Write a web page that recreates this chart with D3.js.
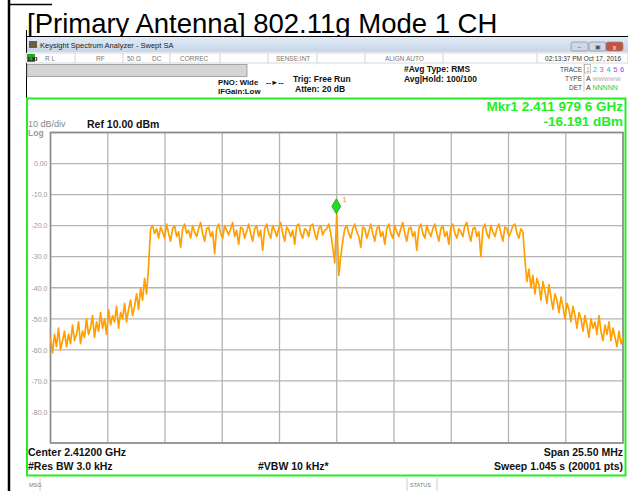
<!DOCTYPE html>
<html lang="en">
<head>
<meta charset="UTF-8"/>
<title>802.11g Mode 1 CH</title>
<script src="https://d3js.org/d3.v7.min.js"></script>
<style>
  body { margin: 0; background: #fff; }
  svg { display: block; font-family: "Liberation Sans", Arial, sans-serif; }
</style>
</head>
<body>
<script>
var w = 628;
var h = 491;

// sweep settings (MHz)
var centerMHz = 2412.0;
var spanMHz = 25.5;

// reference level / scale
var refLevel = 10;
var dbPerDiv = 10;
var yTickValues = [0, -10, -20, -30, -40, -50, -60, -70, -80];

// marker
var markerMHz = 2411.9796;
var markerDbm = -16.191;

// trace (dBm), evenly spaced across the span
var traceLeft = [
  -56, -61, -55, -59, -53, -60, -57, -54, -59, -55,
  -58, -52, -57, -55, -51, -58, -54, -56, -50, -55,
  -53, -49, -56, -51, -54, -48, -53, -50, -55, -47,
  -52, -49, -51, -46, -53, -48, -50, -45, -51, -47,
  -44, -49, -46, -42, -47, -40, -44, -37, -42, -33
];
var traceTop = [
  -21, -20, -22.5, -21, -24, -20.5, -22, -24, -19.5, -22.5,
  -25, -21, -20, -23.5, -22, -27, -21, -19.5, -22.5, -21.5,
  -24, -20, -22, -23.5, -21, -19, -22.5, -25, -21, -20.5,
  -23.5, -22, -29, -21, -19.5, -22.5, -24, -20, -21.5, -23,
  -21, -19, -23.5, -21.5, -26, -20.5, -21, -24, -22, -19.5,
  -22.5, -25, -21, -20, -23.5, -21.5, -28, -21, -19.5, -22.5,
  -24, -20, -21.5, -23.5, -21, -19, -22.5, -25, -20.5, -21.5,
  -23.5, -21.5, -26, -20, -19.5, -22.5, -24, -21, -21.5, -23.5,
  -20, -19.5, -22.5, -24.5, -21, -20, -23, -21.5, -21, -19.5,
  -22.5, -27, -32, -16.2, -36, -30, -25, -21, -20, -22.5,
  -24, -21, -19.5, -22, -23.5, -27, -20.5, -21, -24, -22,
  -19.5, -22.5, -25, -21, -20, -23.5, -22, -26, -21, -19.5,
  -22.5, -24, -20, -22, -23.5, -21, -19, -22.5, -25, -21,
  -20.5, -23.5, -22, -28, -21, -19.5, -22.5, -24, -20, -22,
  -23.5, -21, -19.5, -22.5, -25, -21, -20, -23.5, -22, -26,
  -20.5, -19.5, -22.5, -24, -21, -22, -23.5, -20, -19, -22.5,
  -25, -21, -20.5, -23.5, -22, -30, -21, -19.5, -22.5, -24,
  -20, -22, -23.5, -21, -19.5, -22.5, -25, -20.5, -21, -23.5,
  -22, -20, -19.5, -22.5, -24, -21, -22
];
var traceRight = [
  -31, -38, -34, -40, -36, -42, -37, -39, -44, -38,
  -41, -45, -39, -43, -47, -42, -44, -48, -43, -46,
  -50, -45, -47, -51, -46, -49, -53, -48, -50, -54,
  -49, -52, -56, -50, -53, -51, -55, -49, -54, -57,
  -52, -55, -51, -57, -53, -56, -59, -54, -58, -56
];
var traceDbm = traceLeft.concat(traceTop, traceRight);

var traceColors = ["#f0a000", "#00c0e8", "#e040e0", "#20b880", "#c040e0", "#8050ff"];

var svg = d3.select("body").append("svg")
  .attr("width", w)
  .attr("height", h);

// page frame + title
svg.append("line").attr("x1", 9).attr("y1", 0).attr("x2", 9).attr("y2", h)
  .attr("stroke", "#000").attr("stroke-width", 2.5);
svg.append("line").attr("x1", 8).attr("y1", 4.5).attr("x2", 52).attr("y2", 4.5)
  .attr("stroke", "#000").attr("stroke-width", 1.5);
svg.append("text")
  .attr("x", 27).attr("y", 33)
  .attr("font-size", 27.5)
  .attr("fill", "#000")
  .text("[Primary Antenna] 802.11g Mode 1 CH");

// window title bar
var grad = svg.append("defs").append("linearGradient")
  .attr("id", "tb").attr("x1", 0).attr("y1", 0).attr("x2", 0).attr("y2", 1);
grad.append("stop").attr("offset", 0).attr("stop-color", "#e4edf7");
grad.append("stop").attr("offset", 1).attr("stop-color", "#c6d5e8");

svg.append("rect").attr("x", 26).attr("y", 36).attr("width", 602).attr("height", 16)
  .attr("fill", "url(#tb)");
svg.append("line").attr("x1", 26).attr("y1", 36.5).attr("x2", 628).attr("y2", 36.5)
  .attr("stroke", "#000").attr("stroke-width", 1);
svg.append("line").attr("x1", 26.5).attr("y1", 30).attr("x2", 26.5).attr("y2", 98)
  .attr("stroke", "#000").attr("stroke-width", 1);
svg.append("rect").attr("x", 29).attr("y", 41).attr("width", 8).attr("height", 7)
  .attr("fill", "#6b6040");
svg.append("text").attr("x", 40).attr("y", 47.5).attr("font-size", 7.5)
  .attr("fill", "#222").text("Keysight Spectrum Analyzer - Swept SA");

var btns = [
  {x: 571, c: "#cfd9e6"},
  {x: 589, c: "#cfd9e6"},
  {x: 606, c: "#c8523c"}
];
svg.selectAll("rect.btn").data(btns).enter().append("rect")
  .attr("class", "btn")
  .attr("x", function(d) { return d.x; }).attr("y", 42)
  .attr("width", 17).attr("height", 9).attr("rx", 2)
  .attr("fill", function(d) { return d.c; })
  .attr("stroke", "#7f8ea3").attr("stroke-width", 0.7);
svg.append("text").attr("x", 579.5).attr("y", 49).attr("font-size", 6).attr("text-anchor", "middle").attr("fill", "#445").text("\u2013");
svg.append("text").attr("x", 597.5).attr("y", 49).attr("font-size", 6).attr("text-anchor", "middle").attr("fill", "#445").text("\u25a3");
svg.append("text").attr("x", 614.5).attr("y", 49.5).attr("font-size", 7).attr("text-anchor", "middle").attr("fill", "#fff").text("x");

// status row
svg.append("rect").attr("x", 26).attr("y", 53).attr("width", 602).attr("height", 10)
  .attr("fill", "#fff").attr("stroke", "#bbb").attr("stroke-width", 0.6);
var cellLines = [75, 123, 170, 220, 268, 317, 365, 443, 537];
svg.selectAll("line.cell").data(cellLines).enter().append("line")
  .attr("class", "cell")
  .attr("x1", function(d) { return d; }).attr("x2", function(d) { return d; })
  .attr("y1", 53).attr("y2", 63).attr("stroke", "#bbb").attr("stroke-width", 0.6);
svg.append("rect").attr("x", 27).attr("y", 54).attr("width", 8).attr("height", 8).attr("fill", "#2ca02c");
svg.append("text").attr("x", 28).attr("y", 61).attr("font-size", 6).attr("font-weight", "bold").attr("fill", "#000").text("LXI");
var statusCells = [
  {x: 45, t: "R L"}, {x: 96, t: "RF"}, {x: 127, t: "50 \u03a9"}, {x: 152, t: "DC"},
  {x: 180, t: "CORREC"}, {x: 276, t: "SENSE:INT"}, {x: 385, t: "ALIGN AUTO"}
];
svg.selectAll("text.status").data(statusCells).enter().append("text")
  .attr("class", "status")
  .attr("x", function(d) { return d.x; }).attr("y", 60.5)
  .attr("font-size", 6.5).attr("fill", "#777")
  .text(function(d) { return d.t; });
svg.append("text").attr("x", 621).attr("y", 60.5).attr("font-size", 6.5)
  .attr("text-anchor", "end").attr("fill", "#333").text("02:13:37 PM Oct 17, 2016");

// gray message bar
svg.append("rect").attr("x", 27).attr("y", 64.5).attr("width", 220).attr("height", 12)
  .attr("fill", "#d4d4d4").attr("stroke", "#888").attr("stroke-width", 0.7);

// setting annotations
var bold = function(sel) { return sel.attr("font-weight", "bold").attr("fill", "#111"); };
bold(svg.append("text").attr("x", 218).attr("y", 85).attr("font-size", 7.8).text("PNO: Wide"));
bold(svg.append("text").attr("x", 218).attr("y", 94).attr("font-size", 7.8).text("IFGain:Low"));
bold(svg.append("text").attr("x", 266).attr("y", 85).attr("font-size", 7.5).text("--\u25ba--"));
bold(svg.append("text").attr("x", 293).attr("y", 82).attr("font-size", 8.5).text("Trig: Free Run"));
bold(svg.append("text").attr("x", 295).attr("y", 92).attr("font-size", 8.5).text("Atten: 20 dB"));
bold(svg.append("text").attr("x", 404).attr("y", 72).attr("font-size", 8.5).text("#Avg Type: RMS"));
bold(svg.append("text").attr("x", 404).attr("y", 82).attr("font-size", 8.5).text("Avg|Hold: 100/100"));

// trace/type/det block
var tdRows = [{y: 71.5, t: "TRACE"}, {y: 80.5, t: "TYPE"}, {y: 89.5, t: "DET"}];
svg.selectAll("text.td").data(tdRows).enter().append("text")
  .attr("class", "td")
  .attr("x", 582).attr("y", function(d) { return d.y; })
  .attr("font-size", 6.5).attr("text-anchor", "end").attr("fill", "#444")
  .text(function(d) { return d.t; });
svg.append("line").attr("x1", 584).attr("x2", 584).attr("y1", 64).attr("y2", 92)
  .attr("stroke", "#aaa").attr("stroke-width", 0.6);
svg.append("rect").attr("x", 584.5).attr("y", 64.5).attr("width", 6).attr("height", 8.5)
  .attr("fill", "none").attr("stroke", "#999").attr("stroke-width", 0.6);
svg.selectAll("text.tn").data(traceColors).enter().append("text")
  .attr("class", "tn")
  .attr("x", function(d, i) { return 586 + i * 6.8; }).attr("y", 71.5)
  .attr("font-size", 7.5).attr("fill", function(d) { return d; })
  .text(function(d, i) { return i + 1; });
svg.append("text").attr("x", 586).attr("y", 80.5).attr("font-size", 7).attr("fill", "#333").text("A");
svg.append("text").attr("x", 592.5).attr("y", 80.5).attr("font-size", 6).attr("fill", "#aaa").text("WWWWW");
svg.append("text").attr("x", 586).attr("y", 89.5).attr("font-size", 7).attr("fill", "#333").text("A");
svg.append("text").attr("x", 592.5).attr("y", 89.5).attr("font-size", 7).attr("fill", "#3c3").text("NNNNN");

// green display frame
svg.append("rect").attr("x", 27).attr("y", 98.5).attr("width", 598.5).attr("height", 377)
  .attr("fill", "none").attr("stroke", "#22ee22").attr("stroke-width", 2);

// marker readout
svg.append("text").attr("x", 623).attr("y", 111).attr("font-size", 13.5).attr("font-weight", "bold")
  .attr("text-anchor", "end").attr("fill", "#22ee22").text("Mkr1 2.411 979 6 GHz");
svg.append("text").attr("x", 623).attr("y", 125.5).attr("font-size", 13.5).attr("font-weight", "bold")
  .attr("text-anchor", "end").attr("fill", "#22ee22").text("-16.191 dBm");

svg.append("text").attr("x", 28).attr("y", 126.5).attr("font-size", 9).attr("fill", "#888").text("10 dB/div");
svg.append("text").attr("x", 28).attr("y", 135.5).attr("font-size", 8.5).attr("font-weight", "bold").attr("fill", "#999").text("Log");
svg.append("text").attr("x", 87).attr("y", 128).attr("font-size", 10.5).attr("font-weight", "bold").attr("fill", "#111").text("Ref 10.00 dBm");

// plot area
var plot = {left: 50.5, right: 623, top: 132.5, bottom: 443};

var xScale = d3.scaleLinear()
  .domain([centerMHz - spanMHz / 2, centerMHz + spanMHz / 2])
  .range([plot.left, plot.right]);
var yScale = d3.scaleLinear()
  .domain([refLevel - 10 * dbPerDiv, refLevel])
  .range([plot.bottom, plot.top]);

var xGrid = d3.range(11).map(function(i) { return xScale.domain()[0] + i * spanMHz / 10; });
var yGrid = d3.range(11).map(function(i) { return refLevel - i * dbPerDiv; });

var grid = svg.append("g");
grid.selectAll("line.gx").data(xGrid).enter().append("line")
  .attr("class", "gx")
  .attr("x1", function(d) { return xScale(d); }).attr("x2", function(d) { return xScale(d); })
  .attr("y1", plot.top).attr("y2", plot.bottom)
  .attr("stroke", "#b4b4b4").attr("stroke-width", 1.3);
grid.selectAll("line.gy").data(yGrid).enter().append("line")
  .attr("class", "gy")
  .attr("y1", function(d) { return yScale(d); }).attr("y2", function(d) { return yScale(d); })
  .attr("x1", plot.left).attr("x2", plot.right)
  .attr("stroke", "#b4b4b4").attr("stroke-width", 1.3);
svg.append("rect")
  .attr("x", plot.left).attr("y", plot.top)
  .attr("width", plot.right - plot.left).attr("height", plot.bottom - plot.top)
  .attr("fill", "none").attr("stroke", "#8c8c8c").attr("stroke-width", 1.6);

var yAxis = d3.axisLeft(yScale)
  .tickValues(yTickValues)
  .tickSize(0)
  .tickPadding(3)
  .tickFormat(function(d) { return d === 0 ? "0.00" : d.toFixed(1); });
var yg = svg.append("g").attr("transform", "translate(" + plot.left + ",0)").call(yAxis);
yg.select(".domain").remove();
yg.selectAll("text").attr("font-size", 7).attr("fill", "#999")
  .attr("font-family", "'Liberation Sans', Arial, sans-serif");

// trace
var step = spanMHz / (traceDbm.length - 1);
var line = d3.line()
  .x(function(d, i) { return xScale(xScale.domain()[0] + i * step); })
  .y(function(d) { return yScale(d); });
svg.append("path")
  .datum(traceDbm)
  .attr("d", line)
  .attr("fill", "none")
  .attr("stroke", "#ffa000")
  .attr("stroke-width", 1.7)
  .attr("stroke-linejoin", "round");

// marker diamond
var mx = xScale(markerMHz);
var my = yScale(markerDbm);
svg.append("path")
  .attr("d", "M" + mx + "," + my + " l4.5,-7.5 l-4.5,-7.5 l-4.5,7.5 z")
  .attr("fill", "#22dd22").attr("stroke", "#117711").attr("stroke-width", 0.6);
svg.append("text").attr("x", mx + 6).attr("y", my - 12).attr("font-size", 8)
  .attr("fill", "#f0a000").text("1");

// bottom annotations
bold(svg.append("text").attr("x", 28).attr("y", 456).attr("font-size", 10.5).text("Center 2.41200 GHz"));
bold(svg.append("text").attr("x", 28).attr("y", 470).attr("font-size", 10.5).text("#Res BW 3.0 kHz"));
bold(svg.append("text").attr("x", 258).attr("y", 470).attr("font-size", 10.5).text("#VBW 10 kHz*"));
bold(svg.append("text").attr("x", 623).attr("y", 456).attr("font-size", 10.5).attr("text-anchor", "end").text("Span 25.50 MHz"));
bold(svg.append("text").attr("x", 623).attr("y", 470).attr("font-size", 10.5).attr("text-anchor", "end").text("Sweep  1.045 s (20001 pts)"));

// message / status bar
svg.append("line").attr("x1", 40).attr("x2", 40).attr("y1", 478).attr("y2", h).attr("stroke", "#ccc");
svg.append("line").attr("x1", 407).attr("x2", 407).attr("y1", 478).attr("y2", h).attr("stroke", "#ccc");
svg.append("line").attr("x1", 437).attr("x2", 437).attr("y1", 478).attr("y2", h).attr("stroke", "#ccc");
svg.append("text").attr("x", 29).attr("y", 487).attr("font-size", 5.5).attr("fill", "#777").text("MSG");
svg.append("text").attr("x", 410).attr("y", 487).attr("font-size", 5.5).attr("fill", "#777").text("STATUS");
</script>
</body>
</html>
